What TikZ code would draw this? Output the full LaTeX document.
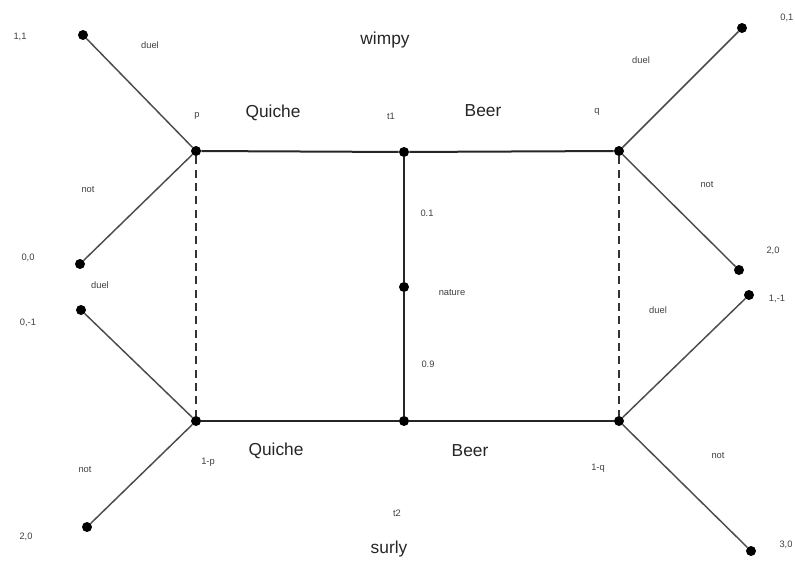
\documentclass[tikz,border=0pt]{standalone}
\usepackage{fontspec}
\setmainfont{Liberation Sans}
\begin{document}
\begin{tikzpicture}[x=0.75pt,y=-0.75pt,
  dot/.style={circle,fill=black,inner sep=0pt,minimum size=7.5pt},
  branch/.style={line width=1.1pt,draw=black!70},
  trunk/.style={line width=1.5pt,draw=black!85},
  info/.style={line width=0.9pt,draw=black!80,dash pattern=on 6pt off 4pt},
  big/.style={font=\fontsize{13}{15}\selectfont,text=black!85},
  small/.style={font=\fontsize{7}{8}\selectfont,text=black!75}]
\useasboundingbox (0,0) rectangle (795,563);
\fill[white] (0,0) rectangle (795,563);

% decision nodes and nature
\node[dot] (p)  at (196,151) {};
\node[dot] (t1) at (404,152) {};
\node[dot] (q)  at (619,151) {};
\node[dot] (n)  at (404,287) {};
\node[dot] (pb) at (196,421) {};
\node[dot] (t2) at (404,421) {};
\node[dot] (qb) at (619,421) {};

% terminal nodes
\node[dot] (e1) at (83,35) {};
\node[dot] (e2) at (80,264) {};
\node[dot] (e3) at (81,310) {};
\node[dot] (e4) at (87,527) {};
\node[dot] (e5) at (742,28) {};
\node[dot] (e6) at (739,270) {};
\node[dot] (e7) at (749,295) {};
\node[dot] (e8) at (751,551) {};

% main tree
\draw[trunk] (p) -- (t1) -- (q);
\draw[trunk] (pb) -- (t2) -- (qb);
\draw[trunk] (t1) -- (n) -- (t2);

% information sets
\draw[info] (p) -- (pb);
\draw[info] (q) -- (qb);

% receiver responses
\draw[branch] (p) -- (e1);
\draw[branch] (p) -- (e2);
\draw[branch] (pb) -- (e3);
\draw[branch] (pb) -- (e4);
\draw[branch] (q) -- (e5);
\draw[branch] (q) -- (e6);
\draw[branch] (qb) -- (e7);
\draw[branch] (qb) -- (e8);

% large labels
\node[big] (lw) at (385,40) {wimpy};
\node[big] (lq1) at (273,113) {Quiche};
\node[big] (lb1) at (483,111) {Beer};
\node[big] (lq2) at (276,451) {Quiche};
\node[big] (lb2) at (470,451) {Beer};
\node[big] (ls) at (389,549) {surly};

% small labels
\node[small] (lp) at (197,116) {p};
\node[small] (lt1) at (391,116) {t1};
\node[small] (lqq) at (597,112) {q};
\node[small] (lt2) at (397,513) {t2};
\node[small] (l1p) at (208,462) {1-p};
\node[small] (l1q) at (598,468) {1-q};
\node[small] (ln) at (452,293) {nature};
\node[small] (l01) at (427,213) {0.1};
\node[small] (l09) at (428,364) {0.9};

\node[small] (d1) at (150,45) {duel};
\node[small] (m1) at (88,190) {not};
\node[small] (d2) at (100,285) {duel};
\node[small] (m2) at (85,470) {not};
\node[small] (d3) at (641,60) {duel};
\node[small] (m3) at (707,185) {not};
\node[small] (d4) at (658,310) {duel};
\node[small] (m4) at (718,456) {not};

% payoffs
\node[small] (u1) at (20,37) {1,1};
\node[small] (u2) at (28,258) {0,0};
\node[small] (u3) at (28,323) {0,-1};
\node[small] (u4) at (26,537) {2,0};
\node[small,anchor=east,inner xsep=1pt] (u5) at (795,18) {0,1};
\node[small] (u6) at (773,251) {2,0};
\node[small] (u7) at (777,299) {1,-1};
\node[small] (u8) at (786,545) {3,0};
\end{tikzpicture}
\end{document}
